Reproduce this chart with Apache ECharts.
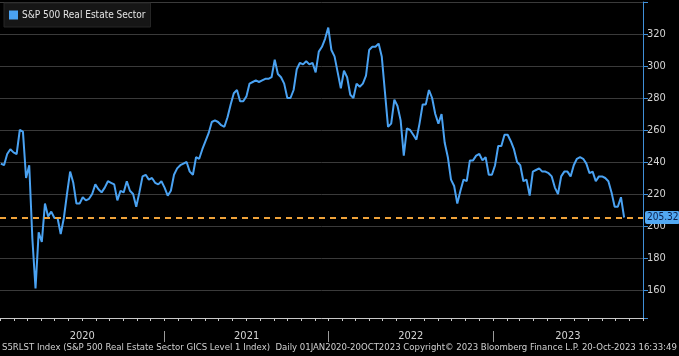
<!DOCTYPE html>
<html>
<head>
<meta charset="utf-8">
<script src="https://cdn.jsdelivr.net/npm/echarts@6/dist/echarts.min.js"></script>
<style>html,body{margin:0;padding:0;background:#000;}#c{width:679px;height:356px;}</style>
</head>
<body>
<div id="c"></div>
<script>
// Weekly closes (Fridays), first on 2020-01-03, last on 2023-10-20
const seriesName = 'S&P 500 Real Estate Sector';
const firstDate = '2020-01-03';
const stepDays = 7;
const values = [
  239,238,245,248,246,245,260,259,230,238,
  192,161,196,190,214,206,209,205,205,195,
  205,220,234,227,214,214,218,216,217,220,
  226,223,221,224,228,227,226,216,222,221,
  228,222,220,212,221,231,232,229,230,227,
  226,228,224,219,222,232,236,238,239,240,
  234,232,243,242,
  248,253,258,265,266,265,263,262,268,276,
  283,285,278,278,281,289,290,291,290,291,
  292,292,293,304,295,293,289,280,280,285,
  298,302,301,303,301,302,296,309,312,317,
  324,310,306,296,286,297,293,282,280,289,
  287,289,294,310,312,312,314,306,284,262,
  264,279,275,266,244,261,260,257,254,264,
  276,276,285,280,270,264,270,252,243,229,
  225,214,222,229,228,241,241,244,245,241,
  243,232,232,238,250,250,257,257,253,248,
  240,238,228,229,219,234,235,236,234,234,
  233,231,224,220,231,234,234,231,238,242,
  243,242,239,233,234,228,231,231,230,228,
  221,212,212,218,205.32
];
const lastValue = 205.32;
const yearLabels = ['2020','2021','2022','2023'];
const axisStart = '2020-01-01';
const axisEnd = '2023-12-01';
const footer = 'S5RLST Index (S&P 500 Real Estate Sector GICS Level 1 Index)  Daily 01JAN2020-20OCT2023 Copyright\u00A9 2023 Bloomberg Finance L.P. 20-Oct-2023 16:33:49';

const DAY = 86400000;
const t0 = Date.parse(firstDate + 'T00:00:00Z');
const data = values.map((v, i) => [t0 + i * stepDays * DAY, v]);
const xMin = Date.parse(axisStart + 'T00:00:00Z');
const xMax = Date.parse(axisEnd + 'T00:00:00Z');

const monthTicks = [];
for (let y = 2020; y <= 2023; y++) for (let m = 0; m < 12; m++) {
  const t = Date.UTC(y, m, 1);
  if (t >= xMin && t <= xMax) monthTicks.push(t);
}
const yearBounds = [Date.UTC(2021,0,1), Date.UTC(2022,0,1), Date.UTC(2023,0,1)];
const labelPos = yearLabels.map((y) => {
  const a = Date.UTC(+y, 0, 1);
  const b = Math.min(Date.UTC(+y + 1, 0, 1), xMax);
  return (a + b) / 2;
});

const chart = echarts.init(document.getElementById('c'));
chart.setOption({
  backgroundColor: '#000',
  animation: false,
  grid: [
    { left: 0, right: 36, top: 2, bottom: 38 },
    { left: 0, right: 36, top: 2, bottom: 25 }
  ],
  legend: {
    left: 4, top: 3,
    data: [{ name: seriesName, icon: 'rect' }],
    itemWidth: 9, itemHeight: 9, itemGap: 4,
    backgroundColor: '#161616', borderColor: '#262626', borderWidth: 1,
    padding: [7, 5, 7, 5],
    textStyle: { color: '#e4e4e4', fontSize: 10, fontFamily: 'DejaVu Sans Condensed', padding: [0,0,0,-1] }
  },
  xAxis: [
    {
      type: 'value', gridIndex: 0, min: xMin, max: xMax,
      axisLine: { lineStyle: { color: '#c8c8c8', width: 1 } },
      axisTick: { customValues: monthTicks, length: 3, lineStyle: { color: '#c8c8c8' } },
      axisLabel: {
        customValues: labelPos, margin: 13, color: '#d4d4d4', fontSize: 11,
        fontFamily: 'DejaVu Sans Condensed',
        formatter: v => String(new Date(v).getUTCFullYear())
      },
      splitLine: { show: false }
    },
    {
      type: 'value', gridIndex: 1, min: xMin, max: xMax,
      axisLine: { show: false },
      axisTick: { customValues: yearBounds, length: 11, lineStyle: { color: '#9a9a9a' } },
      axisLabel: { show: false },
      splitLine: { show: false }
    }
  ],
  yAxis: [
    {
      type: 'value', gridIndex: 0, position: 'right',
      min: 142.5, max: 340, splitNumber: 10,
      axisLine: { show: true, lineStyle: { color: '#3f8fd8', width: 1 } },
      axisTick: { show: true, length: 5, lineStyle: { color: '#3f8fd8' } },
      axisLabel: {
        color: '#d4d4d4', fontSize: 11, margin: 4, fontFamily: 'DejaVu Sans Condensed',
        formatter: v => (v % 20 === 0 && v < 340) ? String(v) : ''
      },
      splitLine: { show: true, lineStyle: { color: '#3a3a3a', width: 1 } }
    },
    { type: 'value', gridIndex: 1, show: false, min: 0, max: 1 }
  ],
  series: [{
    name: seriesName,
    type: 'line',
    xAxisIndex: 0, yAxisIndex: 0,
    data: data,
    showSymbol: false,
    symbol: 'none',
    itemStyle: { color: '#4aa2f2' },
    lineStyle: { color: '#4aa2f2', width: 2 },
    markLine: {
      silent: true, symbol: 'none',
      data: [{ yAxis: lastValue }],
      lineStyle: { color: '#f0a33a', type: [6, 5], width: 2 },
      label: {
        show: true, position: 'end', distance: 2,
        formatter: () => lastValue.toFixed(2),
        backgroundColor: '#52a8f2', color: '#0b1e48', fontSize: 10,
        fontFamily: 'DejaVu Sans Condensed',
        padding: [2, 1, 1, 2], borderRadius: 2
      }
    }
  }],
  graphic: [{
    type: 'text', left: 2, top: 343,
    style: { text: footer, fill: '#d0d0d0', font: '9.5px "DejaVu Sans Condensed"' }
  }]
});
</script>
</body>
</html>
